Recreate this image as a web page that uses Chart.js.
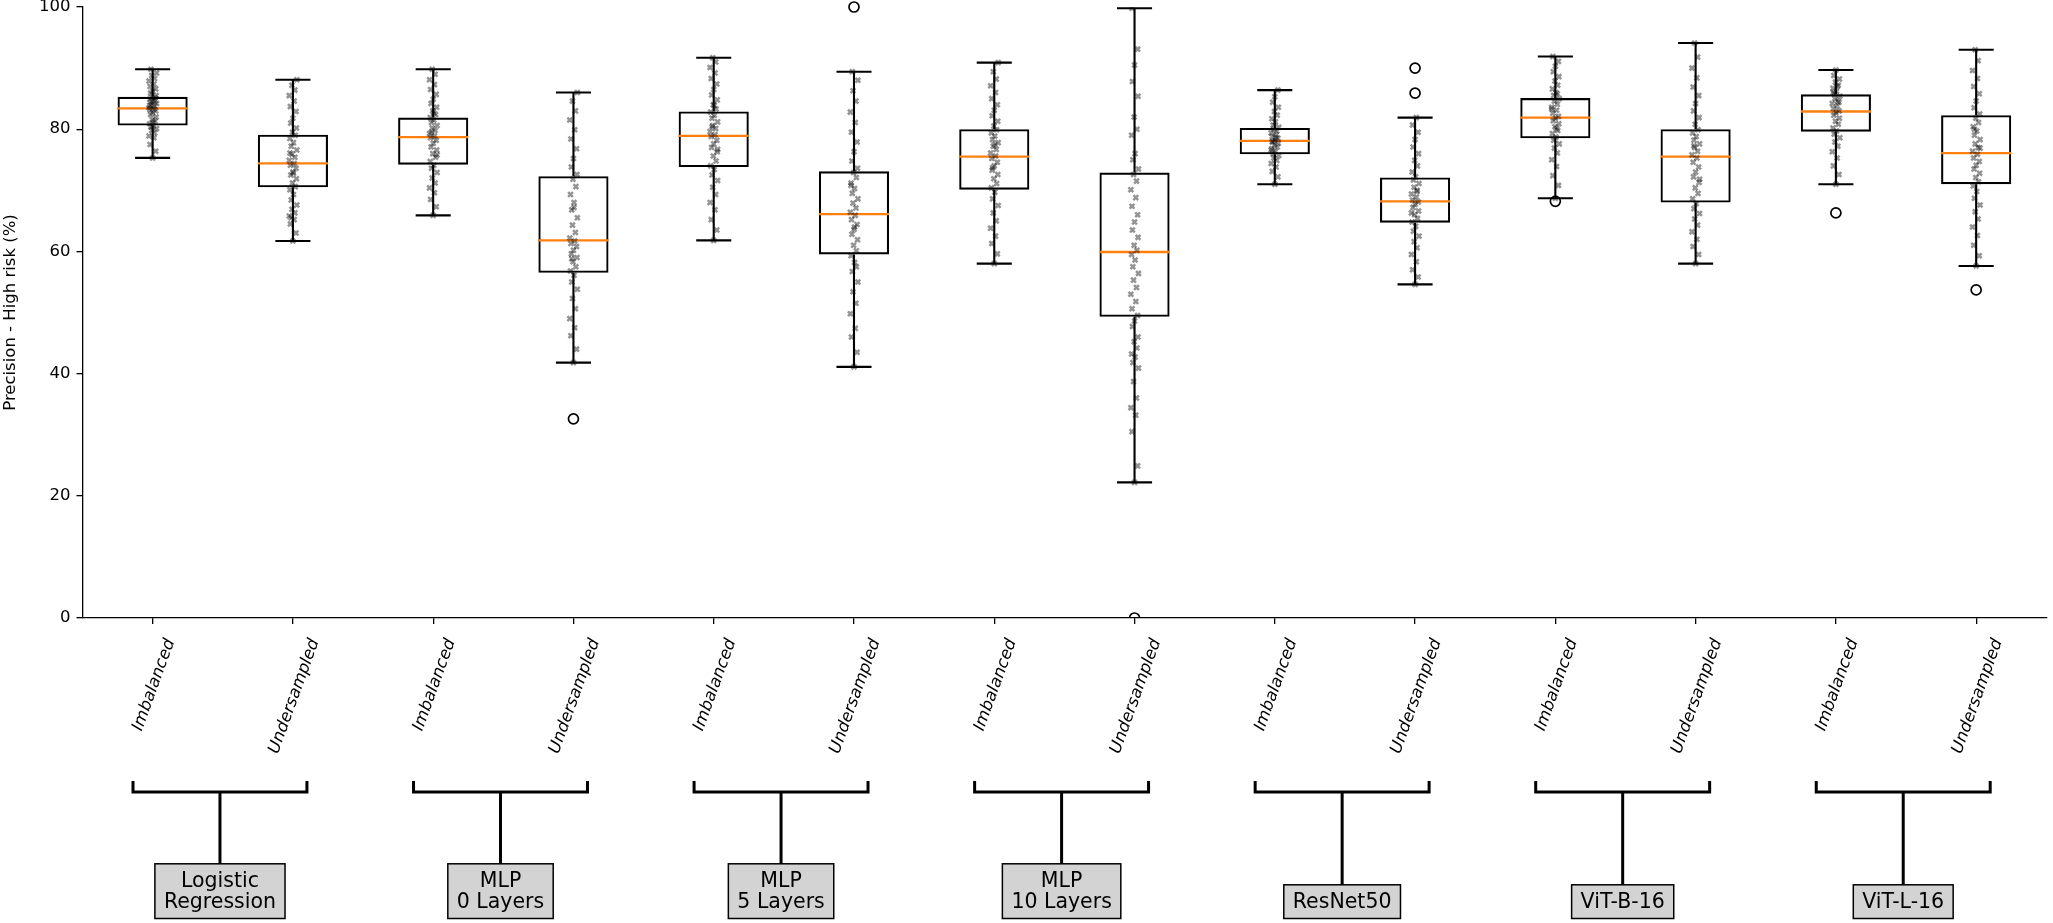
<!DOCTYPE html>
<html>
<head>
<meta charset="utf-8">
<script src="https://cdn.jsdelivr.net/npm/chart.js@4.4.1/dist/chart.umd.min.js"></script>
<style>html,body{margin:0;padding:0;background:#fff;overflow:hidden}canvas{display:block}</style>
</head>
<body>
<canvas id="c" width="2053" height="923"></canvas>
<script>
// ---------- DATA ----------
const conditionLabels = ["Imbalanced","Undersampled","Imbalanced","Undersampled","Imbalanced","Undersampled","Imbalanced","Undersampled","Imbalanced","Undersampled","Imbalanced","Undersampled","Imbalanced","Undersampled"];
const groupLabels = ["Logistic\nRegression","MLP\n0 Layers","MLP\n5 Layers","MLP\n10 Layers","ResNet50","ViT-B-16","ViT-L-16"];
const yTicks = [0,20,40,60,80,100];
const yTitle = "Precision - High risk (%)";

const whiskerLow  = [75.3, 61.7, 65.9, 41.8, 61.8, 41.1, 58.0, 22.2, 71.0, 54.6, 68.7, 58.0, 71.0, 57.6];
const q1          = [80.6, 70.5, 74.2, 56.5, 73.8, 59.5, 70.1, 49.3, 75.9, 64.7, 78.5, 68.0, 79.6, 71.0];
const medians     = [83.4, 74.4, 78.7, 61.8, 78.9, 66.1, 75.5, 59.9, 78.1, 68.2, 81.9, 75.5, 82.9, 76.1];
const q3          = [85.3, 79.1, 81.9, 72.3, 82.9, 73.1, 80.0, 72.9, 80.2, 72.1, 85.1, 80.0, 85.7, 82.3];
const whiskerHigh = [89.8, 88.1, 89.8, 86.0, 91.7, 89.4, 90.9, 99.8, 86.4, 81.9, 91.9, 94.1, 89.7, 93.0];
const outliers    = [[], [], [], [32.6], [], [100.0], [], [0], [], [85.9, 90.0], [68.2], [], [66.3], [53.7]];

const runsLRImb  = [75.3,76.4,77.5,78.6,78.9,79.4,79.8,80.1,80.4,80.5,80.9,81.3,81.6,82.0,82.4,82.7,83.0,83.2,83.3,83.5,83.8,84.0,84.2,84.4,84.6,84.9,85.1,85.2,85.5,85.9,86.2,86.6,87.0,87.4,87.9,88.3,88.8,89.2,89.8,81.1,83.9,84.7];
const runsLRUnd  = [61.7,63.0,64.5,65.2,65.8,66.3,66.9,67.6,68.4,69.3,70.1,70.6,71.2,71.9,72.5,73.0,73.6,74.1,74.4,74.9,75.4,75.9,76.6,77.2,77.8,78.5,79.0,79.5,80.2,81.0,81.8,82.9,83.7,84.6,85.5,86.4,87.2,88.1,65.5,72.8,76.1];
const runsM0Imb  = [65.9,67.3,68.5,69.6,70.4,71.2,72.0,72.9,73.6,74.1,74.7,75.4,76.0,76.6,77.1,77.7,78.2,78.6,78.9,79.3,79.8,80.2,80.6,81.1,81.5,81.9,82.4,83.0,83.6,84.2,84.9,85.7,86.5,87.3,88.1,89.0,89.8,75.8,79.5,82.7];
const runsM0Und  = [41.8,44.0,46.2,47.5,49.0,50.6,52.3,53.8,55.0,56.1,56.8,57.5,58.3,59.0,59.6,60.2,60.8,61.3,61.7,62.2,63.1,64.3,65.5,66.8,68.0,69.3,70.6,71.8,72.6,73.8,75.2,76.8,78.4,79.9,81.5,83.0,84.6,86.0,58.8,67.2];
const runsM5Imb  = [61.8,63.5,65.2,66.8,68.0,69.3,70.5,71.6,72.5,73.4,74.0,74.8,75.6,76.3,77.0,77.6,78.2,78.8,79.1,79.6,80.1,80.6,81.2,81.8,82.3,82.8,83.3,84.0,84.8,85.6,86.5,87.4,88.3,89.2,90.1,91.0,91.7,76.7,80.4,83.9];
const runsM5Und  = [41.1,43.5,46.0,47.4,49.8,51.5,53.4,55.0,56.7,58.2,59.3,60.1,61.0,61.9,62.8,63.6,64.4,65.2,65.9,66.4,67.1,67.9,68.6,69.5,70.3,71.2,72.1,72.9,73.6,74.8,76.3,77.9,79.5,81.1,82.8,84.6,86.3,88.0,89.4,64.0,70.8,57.5];
const runsM10Imb = [58.0,59.6,61.3,62.5,63.8,65.0,66.3,67.5,68.6,69.7,70.4,71.1,71.9,72.6,73.3,74.0,74.6,75.2,75.6,76.1,76.7,77.2,77.8,78.3,78.9,79.4,79.9,80.5,81.3,82.2,83.1,84.0,85.0,86.0,87.1,88.2,89.4,90.9,73.7,77.5];
const runsM10Und = [22.2,24.9,30.5,33.2,34.4,36.0,38.7,40.9,41.8,42.7,43.2,44.2,45.2,46.0,47.7,48.6,49.5,50.6,51.8,53.0,54.1,55.3,56.4,57.5,58.6,59.5,60.2,61.0,62.3,63.5,64.8,66.0,67.4,68.8,70.1,71.5,72.6,73.5,75.0,76.0,79.0,80.0,82.0,85.4,87.8,90.5,93.1,99.8];
const runsRNImb  = [71.0,72.2,73.1,73.8,74.4,74.9,75.3,75.7,76.0,76.4,76.8,77.1,77.4,77.7,78.0,78.2,78.5,78.8,79.1,79.4,79.7,80.0,80.3,80.7,81.2,81.7,82.3,82.9,83.6,84.4,85.3,86.4,77.9,78.6,76.6];
const runsRNUnd  = [54.6,55.8,57.0,58.3,59.5,60.6,61.6,62.5,63.3,64.1,64.8,65.4,66.0,66.6,67.2,67.7,68.1,68.4,68.9,69.4,70.0,70.5,71.1,71.7,72.2,73.0,74.0,74.9,76.0,77.1,78.3,79.5,80.7,81.9,66.3,69.8];
const runsVBImb  = [68.7,70.8,72.4,73.9,75.0,76.1,76.9,77.6,78.2,78.7,79.3,79.8,80.4,80.9,81.4,81.8,82.1,82.6,83.1,83.6,84.1,84.6,85.0,85.5,86.0,86.6,87.2,87.9,88.6,89.4,90.3,91.1,91.9,80.1,83.3,85.8];
const runsVBUnd  = [58.0,59.5,60.8,62.0,63.2,64.3,65.3,66.2,67.0,67.8,68.6,69.5,70.4,71.3,72.2,73.0,73.8,74.6,75.3,75.8,76.4,77.0,77.6,78.2,78.8,79.4,79.9,80.8,81.9,83.0,84.2,85.5,86.9,88.4,90.0,91.8,94.1,71.8,77.3];
const runsVLImb  = [71.0,72.6,74.0,75.3,76.3,77.2,77.9,78.6,79.2,79.7,80.2,80.8,81.3,81.8,82.3,82.7,83.0,83.4,83.8,84.2,84.6,85.0,85.4,85.8,86.2,86.7,87.2,87.7,88.2,88.8,89.7,84.4,86.0,87.0];
const runsVLUnd  = [57.6,59.3,61.0,62.6,64.0,65.3,66.5,67.6,68.7,69.8,70.7,71.4,72.1,72.8,73.5,74.1,74.7,75.3,75.9,76.4,77.0,77.6,78.3,79.0,79.7,80.4,81.1,81.8,82.5,83.5,84.6,85.8,87.0,88.3,89.6,91.2,93.0,76.9,80.0];
const runs = [runsLRImb, runsLRUnd, runsM0Imb, runsM0Und, runsM5Imb, runsM5Und, runsM10Imb, runsM10Und, runsRNImb, runsRNUnd, runsVBImb, runsVBUnd, runsVLImb, runsVLUnd];

// ---------- STYLE ----------
const FONT = '"DejaVu Sans", "Liberation Sans", sans-serif';
const positions = conditionLabels.map((_, i) => i + 1);
const jitterPattern = [0, 0.022, -0.018, 0.009, -0.026, 0.014, -0.007, 0.028, -0.012, 0.004, -0.021, 0.017, -0.003, 0.025, -0.015];
const MEDIAN_COLOR = '#ff7f0e';
const LINE_W = 2.1;

const boxData = positions.map((p, i) => ({x: p, y: [q1[i], q3[i]]}));
const jitterData = [];
runs.forEach((arr, i) => arr.forEach((v, j) => jitterData.push({x: positions[i] + jitterPattern[j % jitterPattern.length], y: v})));
const outlierData = [];
outliers.forEach((arr, i) => arr.forEach(v => outlierData.push({x: positions[i], y: v})));

const boxParts = {
  id: 'boxParts',
  afterDatasetDraw(chart, args) {
    if (args.index !== 0) return;
    const ctx = chart.ctx, xs = chart.scales.x, ys = chart.scales.y;
    const unit = xs.getPixelForValue(1) - xs.getPixelForValue(0);
    ctx.save();
    ctx.lineCap = 'butt';
    positions.forEach((p, i) => {
      const x = xs.getPixelForValue(p);
      ctx.strokeStyle = '#000';
      ctx.lineWidth = LINE_W;
      ctx.beginPath();
      ctx.moveTo(x, ys.getPixelForValue(q1[i])); ctx.lineTo(x, ys.getPixelForValue(whiskerLow[i]));
      ctx.moveTo(x, ys.getPixelForValue(q3[i])); ctx.lineTo(x, ys.getPixelForValue(whiskerHigh[i]));
      const cw = 0.125 * unit;
      ctx.moveTo(x - cw, ys.getPixelForValue(whiskerLow[i])); ctx.lineTo(x + cw, ys.getPixelForValue(whiskerLow[i]));
      ctx.moveTo(x - cw, ys.getPixelForValue(whiskerHigh[i])); ctx.lineTo(x + cw, ys.getPixelForValue(whiskerHigh[i]));
      ctx.stroke();
      ctx.strokeStyle = MEDIAN_COLOR;
      ctx.lineWidth = 2.3;
      ctx.beginPath();
      ctx.moveTo(x - 0.25 * unit, ys.getPixelForValue(medians[i]));
      ctx.lineTo(x + 0.25 * unit, ys.getPixelForValue(medians[i]));
      ctx.stroke();
    });
    ctx.restore();
  },
  afterDraw(chart) {
    const ctx = chart.ctx, xs = chart.scales.x;
    ctx.save();
    // rotated condition labels
    const fs = 16.5;
    ctx.font = 'italic ' + fs + 'px ' + FONT;
    ctx.fillStyle = '#000';
    ctx.textAlign = 'center';
    ctx.textBaseline = 'alphabetic';
    const ang = 70 * Math.PI / 180;
    const labelTop = 636;
    positions.forEach((p, i) => {
      const x = xs.getPixelForValue(p);
      const w = ctx.measureText(conditionLabels[i]).width;
      const h = 1.164 * fs;
      const V = w * Math.sin(ang) + h * Math.cos(ang);
      ctx.save();
      ctx.translate(x, labelTop + V / 2);
      ctx.rotate(-ang);
      ctx.fillText(conditionLabels[i], 0, (0.928 - 0.236) / 2 * fs);
      ctx.restore();
    });
    // brackets, stems and group boxes
    const bracketTop = 781, bracketY = 792;
    const gfs = 20.5, lineGap = 21, boxBottom = 918.5;
    ctx.font = gfs + 'px ' + FONT;
    groupLabels.forEach((lab, g) => {
      const c = (positions[2 * g] + positions[2 * g + 1]) / 2 - 0.02;
      const cx = xs.getPixelForValue(c);
      const lx = xs.getPixelForValue(c - 0.62), rx = xs.getPixelForValue(c + 0.62);
      const lines = lab.split('\n');
      const lastBase = boxBottom - 11;
      const firstBase = lastBase - lineGap * (lines.length - 1);
      const boxTop = firstBase - 22.7;
      const tw = Math.max(...lines.map(l => ctx.measureText(l).width));
      const bw = tw + 18;
      ctx.strokeStyle = '#000';
      ctx.lineWidth = 3;
      ctx.lineJoin = 'miter';
      ctx.beginPath();
      ctx.moveTo(lx, bracketTop); ctx.lineTo(lx, bracketY); ctx.lineTo(rx, bracketY); ctx.lineTo(rx, bracketTop);
      ctx.moveTo(cx, bracketY); ctx.lineTo(cx, boxTop);
      ctx.stroke();
      ctx.fillStyle = '#d3d3d3';
      ctx.fillRect(cx - bw / 2, boxTop, bw, boxBottom - boxTop);
      ctx.lineWidth = 1.5;
      ctx.strokeRect(cx - bw / 2, boxTop, bw, boxBottom - boxTop);
      ctx.fillStyle = '#000';
      ctx.textAlign = 'center';
      lines.forEach((l, k) => ctx.fillText(l, cx, firstBase + k * lineGap));
    });
    ctx.restore();
  }
};

new Chart(document.getElementById('c'), {
  type: 'scatter',
  data: {
    datasets: [
      {
        type: 'bar', data: boxData, order: 3,
        backgroundColor: 'rgba(255,255,255,0)', borderColor: '#000', borderWidth: LINE_W,
        borderSkipped: false, categoryPercentage: 1, barPercentage: 0.5
      },
      {
        type: 'scatter', data: outlierData, order: 2, clip: {left: 10, top: 10, right: 10, bottom: 0},
        pointStyle: 'circle', pointRadius: 5, pointBorderWidth: 1.7,
        pointBorderColor: '#000', pointBackgroundColor: 'rgba(255,255,255,0)'
      },
      {
        type: 'scatter', data: jitterData, order: 1, clip: 0,
        pointStyle: 'crossRot', pointRadius: 3.4, pointBorderWidth: 2.5,
        pointBorderColor: 'rgba(0,0,0,0.42)', pointBackgroundColor: 'rgba(0,0,0,0.42)'
      }
    ]
  },
  options: {
    responsive: false, animation: false, events: [], devicePixelRatio: 1,
    layout: {padding: {top: 7, right: 3.7, bottom: 0, left: 0}},
    plugins: {legend: {display: false}, tooltip: {enabled: false}, title: {display: false}},
    scales: {
      x: {
        type: 'linear', min: 0.5, max: 14.5, offset: false,
        afterBuildTicks: s => { s.ticks = positions.map(v => ({value: v})); },
        afterFit: s => { s.height = 305; },
        ticks: {callback: () => '', autoSkip: false, maxRotation: 0, minRotation: 0},
        grid: {display: true, drawOnChartArea: false, drawTicks: true, tickLength: 6, color: '#000', lineWidth: 1.3, offset: false},
        border: {display: true, color: '#000', width: 1.3}
      },
      y: {
        type: 'linear', min: 0, max: 100,
        afterBuildTicks: s => { s.ticks = yTicks.map(v => ({value: v})); },
        afterFit: s => { s.width = 82.5; s.paddingTop = 0; s.paddingBottom = 0; },
        ticks: {color: '#000', padding: 6, font: {family: FONT, size: 16.5, lineHeight: 0.05}},
        grid: {display: true, drawOnChartArea: false, drawTicks: true, tickLength: 6, color: '#000', lineWidth: 1.3},
        border: {display: true, color: '#000', width: 1.3},
        title: {display: true, text: yTitle, color: '#000', font: {family: FONT, size: 16.5}, padding: {top: 1, bottom: 0}}
      }
    }
  },
  plugins: [boxParts]
});
</script>
</body>
</html>
